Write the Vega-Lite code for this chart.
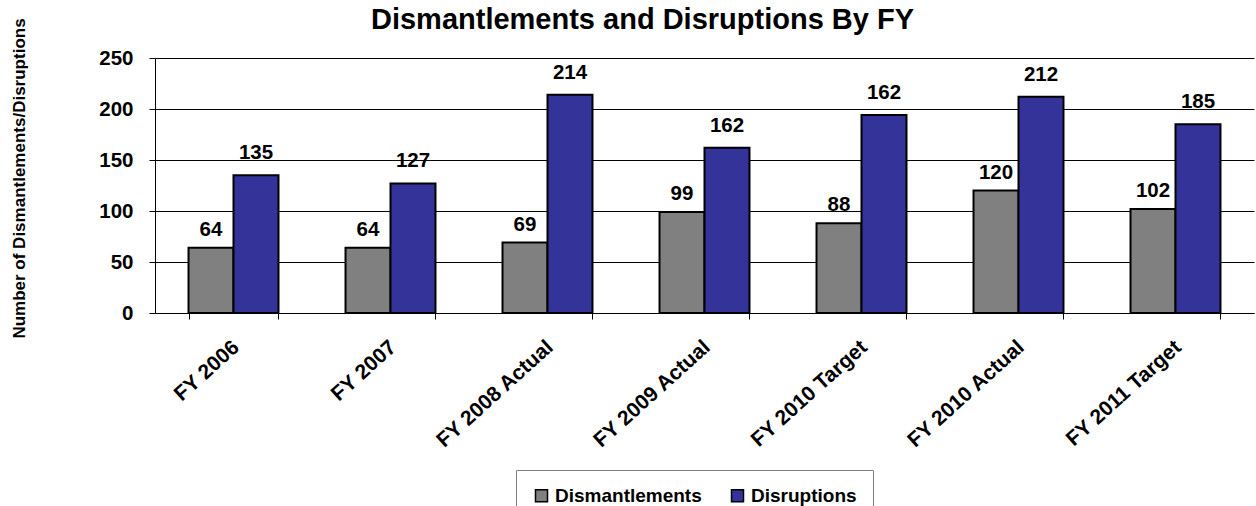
{
  "$schema": "https://vega.github.io/schema/vega-lite/v6.json",
  "autosize": {"type": "none"},
  "padding": {"left": 155, "top": 58, "right": 2, "bottom": 193},
  "width": 1099,
  "height": 255,
  "config": {
    "font": "Liberation Sans",
    "view": {"stroke": null},
    "axis": {"labelFont": "Liberation Sans", "titleFont": "Liberation Sans", "labelFontWeight": "bold", "titleFontWeight": "bold", "labelColor": "black", "titleColor": "black", "domainColor": "black", "tickColor": "black", "gridColor": "black"},
    "legend": {"labelFont": "Liberation Sans"}
  },
  "title": {
    "text": "Dismantlements and Disruptions By FY",
    "font": "Liberation Sans",
    "fontSize": 29,
    "fontWeight": "bold",
    "color": "black",
    "anchor": "middle",
    "frame": "group",
    "dx": -62,
    "dy": 58,
    "baseline": "alphabetic",
    "offset": 18
  },
  "data": {
    "values": [
      {"fy": "FY 2006", "series": "Dismantlements", "value": 64, "label": "64"},
      {"fy": "FY 2006", "series": "Disruptions", "value": 135, "label": "135"},
      {"fy": "FY 2007", "series": "Dismantlements", "value": 64, "label": "64"},
      {"fy": "FY 2007", "series": "Disruptions", "value": 127, "label": "127"},
      {"fy": "FY 2008 Actual", "series": "Dismantlements", "value": 69, "label": "69"},
      {"fy": "FY 2008 Actual", "series": "Disruptions", "value": 214, "label": "214"},
      {"fy": "FY 2009 Actual", "series": "Dismantlements", "value": 99, "label": "99"},
      {"fy": "FY 2009 Actual", "series": "Disruptions", "value": 162, "label": "162"},
      {"fy": "FY 2010 Target", "series": "Dismantlements", "value": 88, "label": "88"},
      {"fy": "FY 2010 Target", "series": "Disruptions", "value": 194, "label": "162"},
      {"fy": "FY 2010 Actual", "series": "Dismantlements", "value": 120, "label": "120"},
      {"fy": "FY 2010 Actual", "series": "Disruptions", "value": 212, "label": "212"},
      {"fy": "FY 2011 Target", "series": "Dismantlements", "value": 102, "label": "102"},
      {"fy": "FY 2011 Target", "series": "Disruptions", "value": 185, "label": "185"}
    ]
  },
  "encoding": {
    "x": {
      "field": "fy", "type": "nominal", "sort": null,
      "scale": {"paddingInner": 0.427, "paddingOuter": 0.2135},
      "axis": {
        "title": null, "labelAngle": -42, "labelFontSize": 21, "labelPadding": 17, "labelOffset": -5,
        "tickBand": "extent", "tickSize": 6, "domainWidth": 1, "grid": false
      }
    },
    "xOffset": {"field": "series", "type": "nominal", "sort": ["Dismantlements", "Disruptions"], "scale": {"paddingInner": 0, "paddingOuter": 0}},
    "y": {
      "field": "value", "type": "quantitative",
      "scale": {"domain": [0, 250], "nice": false},
      "axis": {
        "title": "Number of Dismantlements/Disruptions",
        "titleFontSize": 17, "titleAngle": 270, "titleX": -136, "titleY": 120,
        "titleAlign": "center", "titleBaseline": "middle",
        "values": [0, 50, 100, 150, 200, 250],
        "labelFontSize": 20.5, "labelPadding": 16, "tickSize": 6,
        "grid": true, "gridWidth": 1, "domainWidth": 1
      }
    }
  },
  "layer": [
    {
      "mark": {"type": "bar", "stroke": "black", "strokeWidth": 2},
      "encoding": {
        "color": {
          "field": "series", "type": "nominal",
          "scale": {"domain": ["Dismantlements", "Disruptions"], "range": ["#808080", "#333399"]},
          "legend": {
            "title": null, "orient": "none", "direction": "horizontal",
            "legendX": 361, "legendY": 412,
            "strokeColor": "#808080", "fillColor": "white", "padding": 16,
            "symbolType": "square", "symbolSize": 144, "symbolStrokeColor": "black", "symbolStrokeWidth": 1.5,
            "symbolOpacity": 1,
            "labelFontSize": 19, "labelFontWeight": "bold", "labelColor": "black",
            "labelOffset": 4, "columnPadding": 26
          }
        }
      }
    },
    {
      "transform": [{"filter": "datum.series === 'Dismantlements'"}],
      "mark": {"type": "text", "fontSize": 20.5, "fontWeight": "bold", "color": "black", "baseline": "alphabetic", "dy": -12},
      "encoding": {"text": {"field": "label"}}
    },
    {
      "transform": [{"filter": "datum.series === 'Disruptions'"}],
      "mark": {"type": "text", "fontSize": 20.5, "fontWeight": "bold", "color": "black", "baseline": "alphabetic", "dy": -16},
      "encoding": {"text": {"field": "label"}}
    }
  ]
}
